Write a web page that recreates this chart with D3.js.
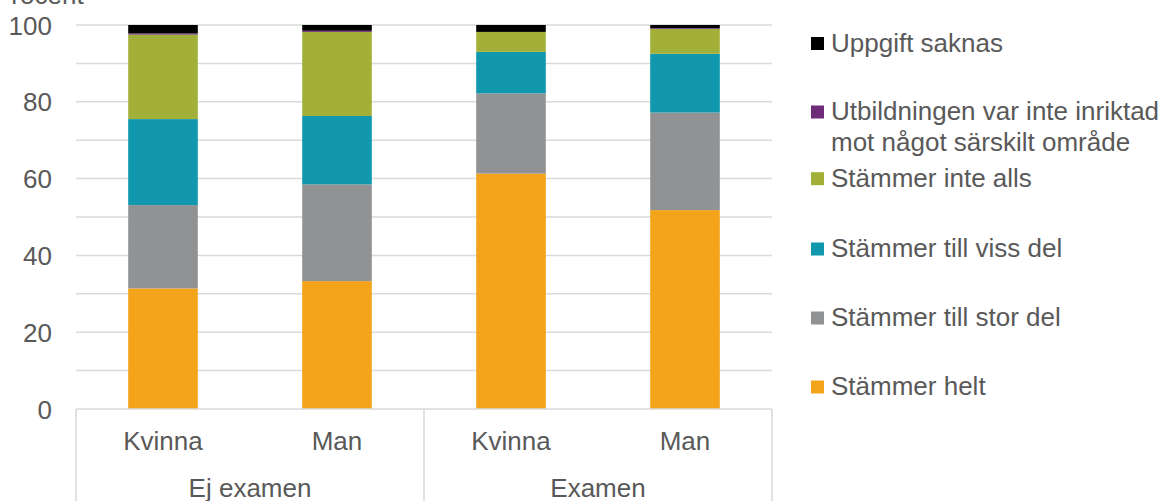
<!DOCTYPE html>
<html><head><meta charset="utf-8">
<script src="https://cdn.jsdelivr.net/npm/d3@7"></script>
<style>body{margin:0;background:#fff}svg{display:block}text{font-family:"Liberation Sans",Arial,sans-serif;fill:#595959}</style>
</head><body>
<script>
const groups = ["Ej examen", "Ej examen", "Examen", "Examen"];
const categories = ["Kvinna", "Man", "Kvinna", "Man"];
const groupNames = ["Ej examen", "Examen"];
const seriesNames = ["Stämmer helt", "Stämmer till stor del", "Stämmer till viss del", "Stämmer inte alls", "Utbildningen var inte inriktad mot något särskilt område", "Uppgift saknas"];
const stammerHelt = [31.4, 33.3, 61.3, 51.8];
const stammerStorDel = [21.7, 25.2, 20.9, 25.4];
const stammerVissDel = [22.4, 17.8, 10.8, 15.3];
const stammerInteAlls = [22.0, 21.9, 5.2, 6.5];
const ejInriktad = [0.3, 0.3, 0.0, 0.2];
const uppgiftSaknas = [2.2, 1.5, 1.8, 0.8];
const yTicks = [0, 20, 40, 60, 80, 100];
const yGrid = [0, 10, 20, 30, 40, 50, 60, 70, 80, 90, 100];
const colors = ["#f4a41a", "#919293", "#1197ae", "#a2b03a", "#6f2a7a", "#000000"];
const seriesValues = [stammerHelt, stammerStorDel, stammerVissDel, stammerInteAlls, ejInriktad, uppgiftSaknas];

(function () {
const W = 1170, H = 501;
const svg = d3.select("body").append("svg").attr("width", W).attr("height", H);
const pLeft = 76, pRight = 772, pTop = 25, pBottom = 409;
const idx = categories.map((c, i) => i);
const x = d3.scaleBand().domain(idx).range([pLeft, pRight]).paddingInner(0.6).paddingOuter(0.3);
const y = d3.scaleLinear().domain([0, 100]).range([pBottom, pTop]);

svg.append("text").attr("x", -6).attr("y", 4).attr("font-size", 26).text("Procent");

// gridlines
svg.append("g").selectAll("line").data(yGrid.filter(d => d > 0)).join("line")
  .attr("x1", pLeft).attr("x2", pRight).attr("y1", d => y(d)).attr("y2", d => y(d))
  .attr("stroke", "#d9d9d9").attr("stroke-width", 1.5);

// y axis labels
const yAxis = d3.axisLeft(y).tickValues(yTicks).tickSize(0).tickPadding(24);
const ga = svg.append("g").attr("transform", `translate(${pLeft},0)`).call(yAxis);
ga.select(".domain").remove();
ga.selectAll("text").attr("font-size", 26).attr("font-family", '"Liberation Sans",Arial,sans-serif').attr("fill", "#595959").attr("dy", "0.35em");

// stacked bars
const table = idx.map(i => { const o = {i}; seriesNames.forEach((s, k) => o[s] = seriesValues[k][i]); return o; });
const stack = d3.stack().keys(seriesNames)(table);
svg.append("g").selectAll("g").data(stack).join("g").attr("fill", (d, k) => colors[k])
  .selectAll("rect").data(d => d).join("rect")
  .attr("x", d => x(d.data.i)).attr("width", x.bandwidth())
  .attr("y", d => y(d[1])).attr("height", d => Math.max(0, y(d[0]) - y(d[1])));

// category axis
const axisG = svg.append("g");
axisG.append("line").attr("x1", pLeft).attr("x2", pRight).attr("y1", pBottom).attr("y2", pBottom).attr("stroke", "#d9d9d9").attr("stroke-width", 1.5);
const step = x.step();
const gx = [pLeft, pLeft + 2 * step, pRight];
axisG.selectAll("line.v").data(gx).join("line").attr("class", "v")
  .attr("x1", d => d).attr("x2", d => d).attr("y1", pBottom).attr("y2", H)
  .attr("stroke", "#d9d9d9").attr("stroke-width", 1.5);
axisG.selectAll("text.cat").data(idx).join("text").attr("class", "cat")
  .attr("x", i => x(i) + x.bandwidth() / 2).attr("y", 450).attr("text-anchor", "middle").attr("font-size", 26)
  .text(i => categories[i]);
axisG.selectAll("text.grp").data(groupNames).join("text").attr("class", "grp")
  .attr("x", (g, k) => pLeft + step * (2 * k + 1)).attr("y", 497).attr("text-anchor", "middle").attr("font-size", 26)
  .text(g => g);

// legend (top to bottom: reverse order of stack)
const legendCenters = [43.5, 112, 178.7, 249, 318, 387];
const legendItems = seriesNames.map((s, k) => ({s, k})).reverse();
const lg = svg.append("g");
legendItems.forEach((it, j) => {
  const cy = legendCenters[j];
  lg.append("rect").attr("x", 811).attr("y", cy - 6.5).attr("width", 13).attr("height", 13).attr("fill", colors[it.k]);
  if (it.k === 4) {
    const t = lg.append("text").attr("x", 831).attr("y", cy + 8).attr("font-size", 26);
    t.append("tspan").attr("x", 831).text("Utbildningen var inte inriktad");
    t.append("tspan").attr("x", 831).attr("dy", 31).text("mot något särskilt område");
  } else {
    lg.append("text").attr("x", 831).attr("y", cy + 8).attr("font-size", 26).text(it.s);
  }
});
})();
</script>
</body></html>
